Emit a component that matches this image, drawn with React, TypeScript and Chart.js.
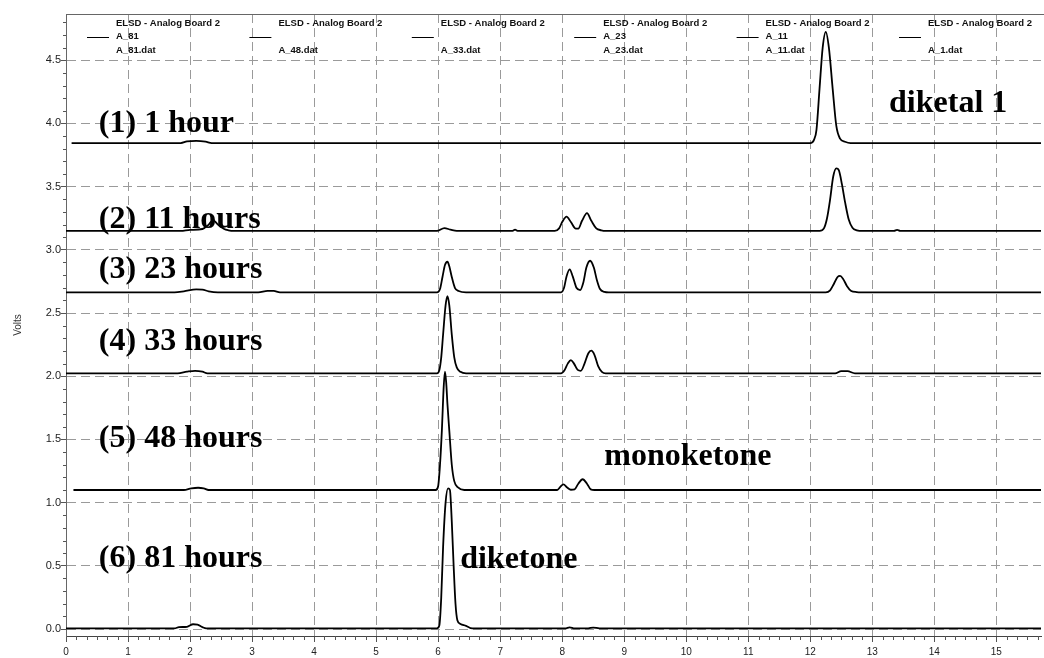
import React, { useEffect, useRef } from "react";
import { Chart, registerables } from "chart.js";

Chart.register(...registerables);

// ---------- axes ----------
const X_MIN = 0;
const X_MAX = 15.72;
const Y_MIN = -0.055;
const Y_MAX = 4.866;
const X_STEP = 1;
const Y_STEP = 0.5;
const X_MINOR = 1 / 6;
const Y_MINOR = 0.1;
const yAxisTitle = "Volts";

// ---------- traces (time in min, signal in V) ----------
// (1) 1 hour  -> A_1.dat
const t01 = [0.09, 1.85, 1.95, 2.1, 2.25, 2.35, 12.0, 12.06, 12.1, 12.15, 12.2, 12.25, 12.3, 12.36, 12.42, 12.48, 12.56, 12.65, 15.72];
const v01 = [3.845, 3.845, 3.858, 3.862, 3.856, 3.845, 3.845, 3.87, 3.95, 4.28, 4.6, 4.725, 4.6, 4.28, 3.98, 3.88, 3.855, 3.845, 3.845];

// (2) 11 hours -> A_11.dat
const t11 = [0, 1.85, 2.0, 2.2, 2.3, 2.37, 2.45, 2.55, 2.62, 2.7, 5.98, 6.1, 6.2, 6.3, 7.2, 7.24, 7.28,
  7.88, 7.95, 8.0, 8.07, 8.14, 8.22, 8.26, 8.32, 8.4, 8.47, 8.55, 8.63, 8.7,
  12.15, 12.22, 12.27, 12.32, 12.37, 12.42, 12.46, 12.51, 12.56, 12.62, 12.68, 12.75, 12.85, 13.35, 13.4, 13.45, 15.72];
const v11 = [3.15, 3.15, 3.158, 3.165, 3.2, 3.235, 3.2, 3.165, 3.155, 3.15, 3.15, 3.172, 3.16, 3.15, 3.15, 3.16, 3.15,
  3.15, 3.17, 3.22, 3.263, 3.22, 3.168, 3.168, 3.23, 3.29, 3.23, 3.17, 3.155, 3.15,
  3.15, 3.17, 3.25, 3.4, 3.58, 3.645, 3.63, 3.52, 3.38, 3.24, 3.175, 3.155, 3.15, 3.15, 3.158, 3.15, 3.15];

// (3) 23 hours -> A_23.dat
const t23 = [0, 1.75, 1.9, 2.1, 2.2, 2.3, 2.45, 3.1, 3.25, 3.35, 3.45,
  5.98, 6.03, 6.07, 6.11, 6.15, 6.18, 6.22, 6.27, 6.33, 6.45,
  7.98, 8.03, 8.07, 8.12, 8.17, 8.23, 8.29, 8.34, 8.39, 8.45, 8.51, 8.56, 8.61, 8.68, 8.75,
  12.25, 12.32, 12.38, 12.44, 12.48, 12.53, 12.59, 12.66, 12.75, 12.8, 15.72];
const v23 = [2.664, 2.664, 2.672, 2.688, 2.686, 2.672, 2.664, 2.664, 2.676, 2.675, 2.664,
  2.664, 2.69, 2.785, 2.88, 2.906, 2.87, 2.785, 2.7, 2.675, 2.664,
  2.664, 2.7, 2.79, 2.846, 2.79, 2.7, 2.682, 2.74, 2.86, 2.914, 2.86, 2.76, 2.69, 2.668, 2.664,
  2.664, 2.68, 2.73, 2.785, 2.794, 2.77, 2.715, 2.675, 2.666, 2.664, 2.664];

// (4) 33 hours -> A_33.dat
const t33 = [0, 1.8, 1.95, 2.08, 2.2, 2.28,
  5.98, 6.02, 6.05, 6.08, 6.12, 6.15, 6.18, 6.22, 6.26, 6.3, 6.36, 6.45,
  7.98, 8.04, 8.09, 8.14, 8.19, 8.25, 8.3, 8.36, 8.42, 8.47, 8.52, 8.58, 8.64, 8.7,
  12.4, 12.5, 12.6, 12.72, 15.72];
const v33 = [2.023, 2.023, 2.036, 2.043, 2.036, 2.023,
  2.023, 2.05, 2.15, 2.33, 2.56, 2.633, 2.56, 2.33, 2.15, 2.07, 2.035, 2.023,
  2.023, 2.05, 2.1, 2.128, 2.1, 2.05, 2.043, 2.1, 2.18, 2.202, 2.17, 2.08, 2.035, 2.023,
  2.023, 2.04, 2.04, 2.023, 2.023];

// (5) 48 hours -> A_48.dat
const t48 = [0.12, 1.9, 2.02, 2.13, 2.22, 2.3,
  5.96, 6.0, 6.03, 6.06, 6.09, 6.11, 6.13, 6.15, 6.18, 6.22, 6.26, 6.32, 6.42,
  7.92, 7.97, 8.02, 8.08, 8.14, 8.2, 8.26, 8.33, 8.4, 8.46, 8.52, 15.72];
const v48 = [1.1, 1.1, 1.113, 1.118, 1.113, 1.1,
  1.1, 1.13, 1.3, 1.57, 1.92, 2.036, 1.95, 1.78, 1.57, 1.3, 1.17, 1.12, 1.1,
  1.1, 1.125, 1.145, 1.12, 1.102, 1.105, 1.15, 1.185, 1.15, 1.105, 1.1, 1.1];

// (6) 81 hours -> A_81.dat
const t81 = [0, 1.75, 1.82, 1.95, 2.05, 2.12, 2.2, 2.26,
  5.98, 6.02, 6.05, 6.08, 6.12, 6.16, 6.19, 6.22, 6.25, 6.28, 6.31, 6.36, 6.45, 6.52, 6.6,
  8.05, 8.12, 8.2, 8.42, 8.5, 8.6, 15.72];
const v81 = [0.005, 0.005, 0.015, 0.018, 0.038, 0.035, 0.015, 0.005,
  0.005, 0.03, 0.25, 0.65, 1.0, 1.113, 1.1, 0.85, 0.5, 0.2, 0.07, 0.04, 0.025, 0.008, 0.005,
  0.005, 0.014, 0.005, 0.005, 0.012, 0.005, 0.005];

const seriesNames = ["A_1", "A_11", "A_23", "A_33", "A_48", "A_81"];
const seriesTimes = [t01, t11, t23, t33, t48, t81];
const seriesValues = [v01, v11, v23, v33, v48, v81];

// ---------- legend ----------
const legendTitle = "ELSD - Analog Board 2";
const legendIds = ["A_81", "", "", "A_23", "A_11", ""];
const legendFiles = ["A_81.dat", "A_48.dat", "A_33.dat", "A_23.dat", "A_11.dat", "A_1.dat"];

// ---------- annotations (text, x in min, baseline in V) ----------
const noteTexts = ["(1) 1 hour", "(2) 11 hours", "(3) 23 hours", "(4) 33 hours", "(5) 48 hours", "(6) 81 hours", "diketal 1", "monoketone", "diketone"];
const noteX = [0.53, 0.53, 0.53, 0.53, 0.53, 0.53, 13.27, 8.68, 6.355];
const noteY = [3.93, 3.175, 2.775, 2.207, 1.442, 0.493, 4.09, 1.297, 0.483];

const SANS = "'Liberation Sans', Arial, sans-serif";
const SERIF = "'Liberation Serif', 'Times New Roman', serif";

const overlayPlugin = {
  id: "overlay",
  afterDraw(chart: any) {
    const { ctx, chartArea, scales } = chart;
    const xs = scales.x;
    const ys = scales.y;
    ctx.save();
    // top border
    ctx.strokeStyle = "#666";
    ctx.lineWidth = 1;
    ctx.beginPath();
    ctx.moveTo(chartArea.left, Math.round(chartArea.top) + 0.5);
    ctx.lineTo(chartArea.right + 3, Math.round(chartArea.top) + 0.5);
    ctx.stroke();
    // minor ticks
    ctx.strokeStyle = "#555";
    ctx.beginPath();
    for (let k = 1; k * X_MINOR <= X_MAX; k++) {
      if (k % 6 === 0) continue;
      const px = Math.round(xs.getPixelForValue(k * X_MINOR)) + 0.5;
      ctx.moveTo(px, chartArea.bottom);
      ctx.lineTo(px, chartArea.bottom + 4);
    }
    for (let k = 1; k * Y_MINOR <= Y_MAX; k++) {
      if (k % 5 === 0) continue;
      const py = Math.round(ys.getPixelForValue(k * Y_MINOR)) + 0.5;
      ctx.moveTo(chartArea.left - 3, py);
      ctx.lineTo(chartArea.left, py);
    }
    ctx.stroke();

    // legend
    ctx.fillStyle = "#111";
    ctx.font = `bold 9.5px ${SANS}`;
    ctx.textBaseline = "middle";
    ctx.textAlign = "left";
    for (let i = 0; i < legendFiles.length; i++) {
      const tx = chartArea.left + 50 + i * 162.4;
      const y0 = chartArea.top + 9;
      ctx.fillText(legendTitle, tx, y0);
      if (legendIds[i]) ctx.fillText(legendIds[i], tx, y0 + 13.5);
      ctx.fillText(legendFiles[i], tx, y0 + 27);
      ctx.strokeStyle = "#000";
      ctx.beginPath();
      ctx.moveTo(tx - 29, Math.round(y0 + 13.5) + 0.5);
      ctx.lineTo(tx - 7, Math.round(y0 + 13.5) + 0.5);
      ctx.stroke();
    }

    // annotations
    ctx.fillStyle = "#000";
    ctx.font = `bold 32px ${SERIF}`;
    ctx.textBaseline = "alphabetic";
    for (let i = 0; i < noteTexts.length; i++) {
      ctx.fillText(noteTexts[i], xs.getPixelForValue(noteX[i]), ys.getPixelForValue(noteY[i]));
    }
    ctx.restore();
  },
};

export default function App() {
  const ref = useRef<HTMLCanvasElement | null>(null);
  useEffect(() => {
    if (!ref.current) return;
    const datasets = seriesNames.map((name, s) => ({
      label: name,
      data: seriesTimes[s].map((t, i) => ({ x: t, y: seriesValues[s][i] })),
      borderColor: "#000",
      borderWidth: 1.8,
      pointRadius: 0,
      fill: false,
      cubicInterpolationMode: "monotone" as const,
    }));
    const chart = new Chart(ref.current, {
      type: "line",
      data: { datasets },
      plugins: [overlayPlugin],
      options: {
        animation: false,
        responsive: false,
        maintainAspectRatio: false,
        layout: { padding: { top: 14, right: 3, left: 0, bottom: 0 } },
        plugins: { legend: { display: false }, tooltip: { enabled: false } },
        scales: {
          x: {
            type: "linear",
            min: X_MIN,
            max: X_MAX,
            afterFit: (s: any) => { s.height = 22; },
            ticks: {
              stepSize: X_STEP,
              includeBounds: false,
              color: "#222",
              font: { family: SANS, size: 10 },
              padding: 4,
              maxRotation: 0,
              callback: (v: any) => String(v),
            },
            grid: { color: "#9a9a9a", tickColor: "#555", tickLength: 6, lineWidth: 1 },
            border: { display: true, color: "#444", width: 1, dash: [9, 5] },
          },
          y: {
            type: "linear",
            min: Y_MIN,
            max: Y_MAX,
            afterFit: (s: any) => { s.width = 66; },
            ticks: {
              stepSize: Y_STEP,
              includeBounds: false,
              color: "#222",
              font: { family: SANS, size: 11 },
              padding: 0,
              callback: (v: any) => Number(v).toFixed(1),
            },
            grid: { color: "#9a9a9a", tickColor: "#555", tickLength: 5, lineWidth: 1 },
            border: { display: true, color: "#666", width: 1, dash: [9, 5] },
            title: { display: true, text: yAxisTitle, color: "#333", font: { family: SANS, size: 10 }, padding: { top: 12, bottom: 0 } },
          },
        },
      },
    });
    return () => chart.destroy();
  }, []);
  return (
    <div style={{ position: "absolute", left: 0, top: 0, width: 1044, height: 658, background: "#fff" }}>
      <canvas ref={ref} width={1044} height={658} style={{ width: 1044, height: 658 }} />
    </div>
  );
}
